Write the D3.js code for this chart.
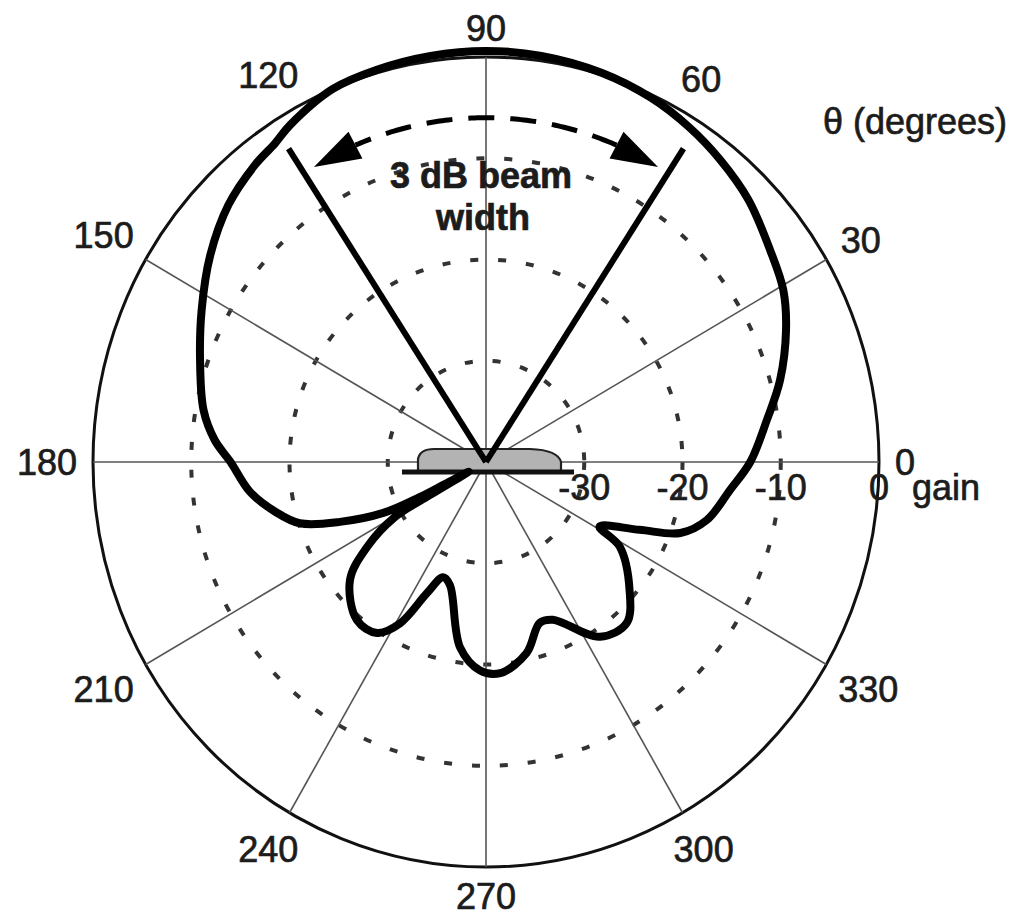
<!DOCTYPE html>
<html><head><meta charset="utf-8">
<script src="https://cdn.jsdelivr.net/npm/d3@7"></script>
<style>
body{margin:0;background:#fff}
text{font-family:"Liberation Sans",Arial,Helvetica,sans-serif;fill:#1c1c1c;stroke:#1c1c1c;stroke-width:0.7px}
</style>
</head><body>
<svg id="chart" width="1017" height="916"></svg>
<script>
// ---- data ----
const angleTicks = [0,30,60,90,120,150,180,210,240,270,300,330];
const angleTickLabels = ["0","30","60","90","120","150","180","210","240","270","300","330"];
const spokeAngles = [0,30,90,150,180,210,240,270,300,330]; // 60 and 120 replaced by the beam lines
const gainRings = [-30,-20,-10];
const gainTickValues = [-30,-20,-10,0];
const gainTickLabels = ["-30","-20","-10","0"];
const patternAngle = [0,8.3,15.1,23.1,29.3,35.9,44.1,51.4,58,65,73,82,90,98,106,113,120.9,124.3,128.7,135.9,144,152.6,160.9,169.9,175.5,180,187,192.9,197.7,201.7,205.7,207.2,207.5,208.5,209.8,210.4,214.7,220.1,229.9,236.7,241.2,245.1,249,253.2,261.8,268.3,274,282.4,289,293.6,303.9,312,319.2,328.4,331.1,336.8,340.5,345.7,353.7];
const patternGain  = [-13.1,-11.1,-9.0,-6.8,-5.3,-4.3,-2.8,-1.8,-1.0,-0.3,0.2,0.5,0.6,0.5,0.3,0.0,-1.2,-1.9,-2.4,-3.5,-5.3,-7.4,-9.2,-10.8,-12.3,-14.0,-15.8,-18.0,-20.1,-24.0,-28.4,-32.4,-35.4,-38,-33.5,-29.2,-25.3,-21.9,-19.6,-19.8,-21.8,-25.7,-27.8,-27.3,-21.5,-19.4,-19.1,-20.7,-23.2,-23.0,-19.2,-18.6,-20.7,-24.0,-26.8,-23.0,-19.0,-16.8,-15.0];
const beamAngles = [57,123];
const beamGain = -3.1;
const arcGain = -6;
const arcAngles = [59,121];
const gainMin = -40, gainMax = 0;

// ---- geometry ----
const svg = d3.select("#chart");
const cx = 486, cy = 462, rx = 393, ry = 405;
const r = d3.scaleLinear().domain([gainMin,gainMax]).range([0,1]);
const rad = d3.scaleLinear().domain([0,360]).range([0,2*Math.PI]);
const px = (a,g)=> cx + rx*r(g)*Math.cos(rad(a));
const py = (a,g)=> cy - ry*r(g)*Math.sin(rad(a));

// outer circle
svg.append("ellipse").attr("cx",cx).attr("cy",cy).attr("rx",rx*r(0)).attr("ry",ry*r(0))
  .attr("fill","none").attr("stroke","#111").attr("stroke-width",3);

// dashed gain rings
svg.selectAll(".ring").data(gainRings).enter().append("ellipse")
  .attr("cx",cx).attr("cy",cy).attr("rx",d=>rx*r(d)).attr("ry",d=>ry*r(d))
  .attr("fill","none").attr("stroke","#333").attr("stroke-width",4)
  .attr("stroke-dasharray","8,20");

// spokes
svg.selectAll(".spoke").data(spokeAngles).enter().append("line")
  .attr("x1",cx).attr("y1",cy).attr("x2",d=>px(d,0)).attr("y2",d=>py(d,0))
  .attr("stroke","#555").attr("stroke-width",1.6);

// antenna symbol
const ant = svg.append("g");
ant.append("path").attr("d",
  `M${cx-68},${cy+9} L${cx-68},${cy-3} Q${cx-66},${cy-13} ${cx-52},${cy-13} L${cx+44},${cy-13} Q${cx+72},${cy-12} ${cx+75},${cy} L${cx+75},${cy+9} Z`)
  .attr("fill","#b3b3b3").attr("stroke","#222").attr("stroke-width",2.2);
ant.append("line").attr("x1",cx-84).attr("x2",cx+88).attr("y1",cy+10).attr("y2",cy+10)
  .attr("stroke","#111").attr("stroke-width",5);

// pattern
const pts = patternAngle.map((a,i)=>({a, g:patternGain[i]}));
const line = d3.line().x(d=>px(d.a,d.g)).y(d=>py(d.a,d.g)).curve(d3.curveCatmullRomClosed.alpha(0.5));
svg.append("path").attr("d",line(pts)).attr("fill","none").attr("stroke","#000")
  .attr("stroke-width",8).attr("stroke-linejoin","round");

// beam lines
svg.selectAll(".beam").data(beamAngles).enter().append("line")
  .attr("x1",cx).attr("y1",cy).attr("x2",d=>px(d,beamGain)).attr("y2",d=>py(d,beamGain))
  .attr("stroke","#000").attr("stroke-width",6);

// beam width arc (dashed) with arrowheads
const arrowLen = 8; // degrees
const arcPts = d3.range(arcAngles[0]+arrowLen, arcAngles[1]-arrowLen+0.01, 0.5).map(a=>({a,g:arcGain}));
svg.append("path").attr("d",d3.line().x(d=>px(d.a,d.g)).y(d=>py(d.a,d.g))(arcPts))
  .attr("fill","none").attr("stroke","#000").attr("stroke-width",5).attr("stroke-dasharray","26,16");
[[arcAngles[0],1],[arcAngles[1],-1]].forEach(([tip,s])=>{
  const base = tip + s*arrowLen;
  const bx = px(base,arcGain), by = py(base,arcGain);
  const tx = px(tip,arcGain), ty = py(tip,arcGain);
  const dx = tx-bx, dy = ty-by, L = Math.hypot(dx,dy);
  const nx = -dy/L, ny = dx/L, w = 15;
  svg.append("path").attr("d",`M${tx},${ty} L${bx+nx*w},${by+ny*w} L${bx-nx*w},${by-ny*w} Z`)
    .attr("fill","#000");
});

// angle labels
const angLab = svg.selectAll(".alab").data(angleTicks).enter().append("text")
  .attr("font-size",36).attr("text-anchor","middle").attr("dy","0.36em")
  .text((d,i)=>angleTickLabels[i]);
angLab.each(function(d){
  const w = this.getComputedTextLength(), h = 26;
  const c = Math.cos(rad(d)), s = Math.sin(rad(d));
  const ext = 16 + Math.abs(c)*w/2 + Math.abs(s)*h/2;
  d3.select(this).attr("x", px(d,0)+c*ext).attr("y", py(d,0)-s*ext);
});

// gain labels
svg.selectAll(".glab").data(gainTickValues).enter().append("text")
  .attr("font-size",36).attr("text-anchor","middle")
  .attr("x",d=>px(0,d)).attr("y",cy+38)
  .text((d,i)=>gainTickLabels[i]);
svg.append("text").attr("font-size",36).attr("x",912).attr("y",cy+38).text("gain");
svg.append("text").attr("font-size",36).attr("text-anchor","middle").attr("x",915).attr("y",134).text("θ (degrees)");
svg.append("text").attr("font-size",36).attr("font-weight","bold").attr("text-anchor","middle").attr("x",481).attr("y",188).text("3 dB beam");
svg.append("text").attr("font-size",36).attr("font-weight","bold").attr("text-anchor","middle").attr("x",483).attr("y",230).text("width");
</script>
</body></html>
